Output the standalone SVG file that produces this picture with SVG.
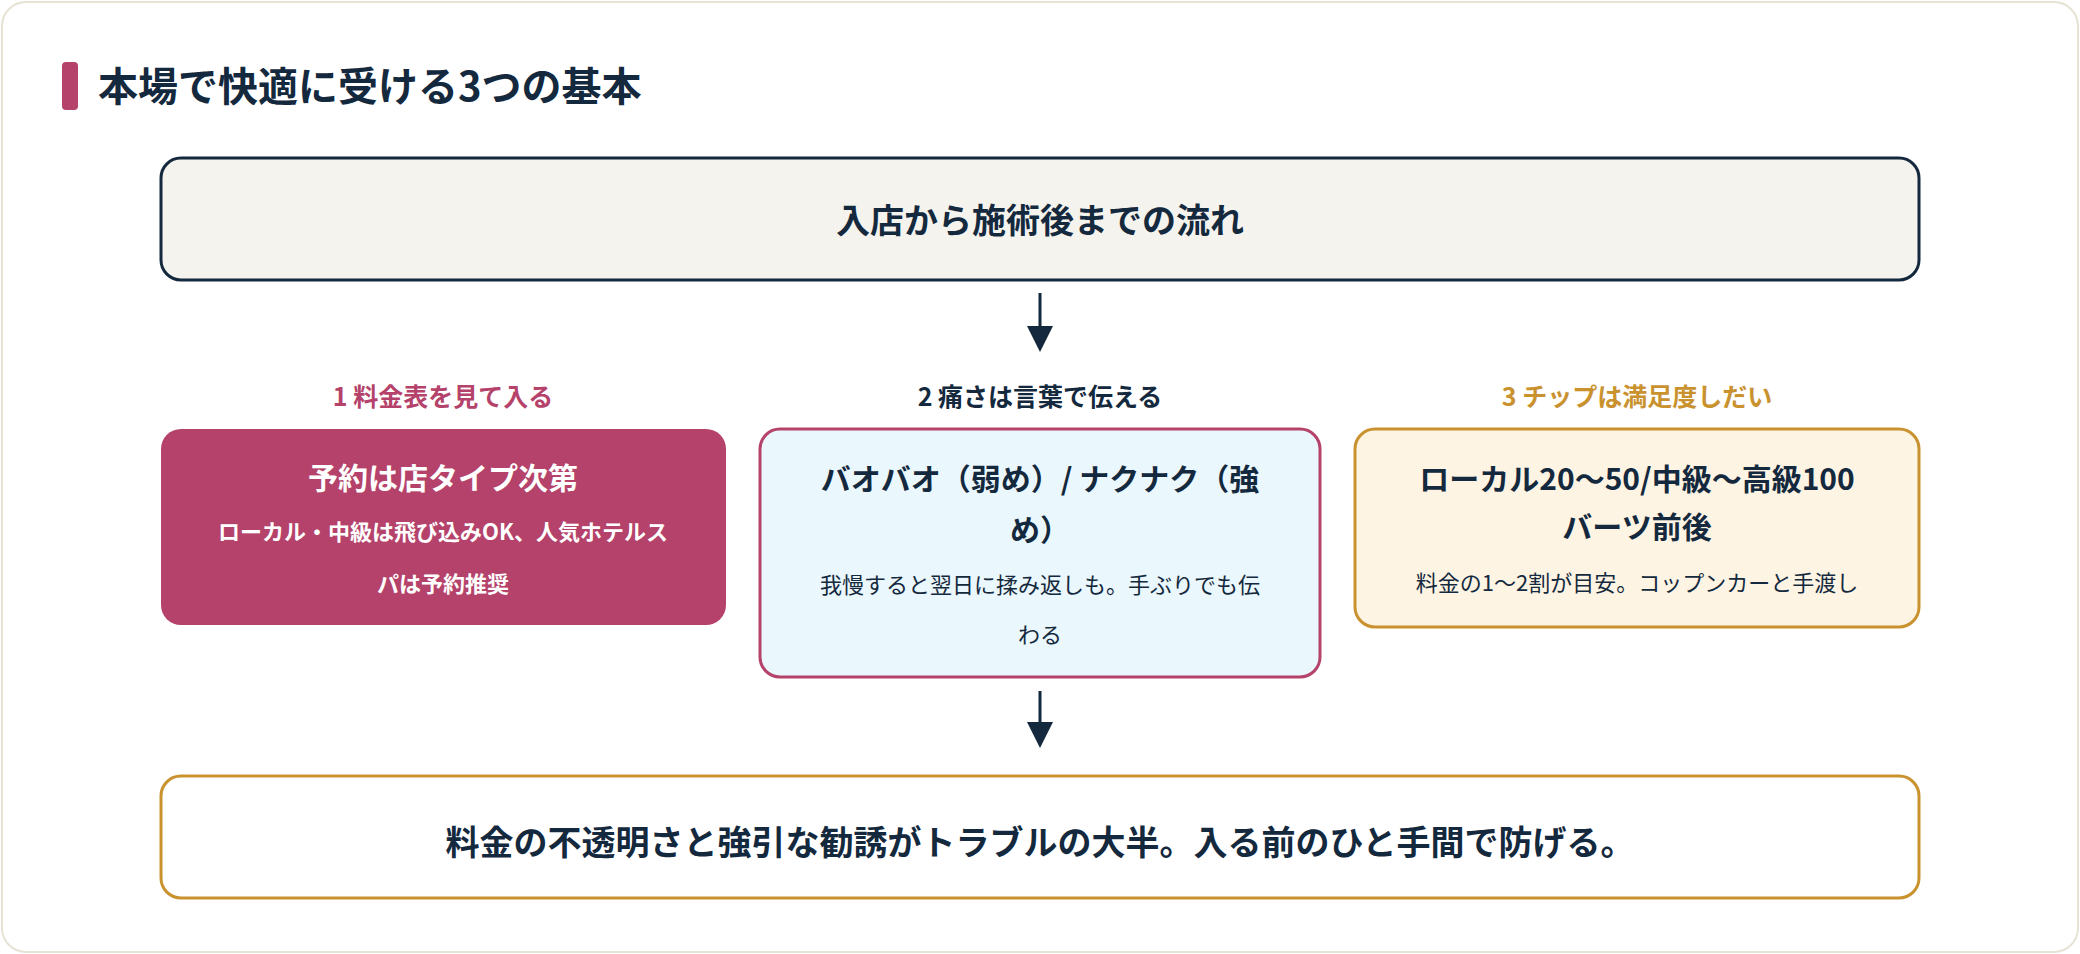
<svg xmlns="http://www.w3.org/2000/svg" width="2080" height="954" viewBox="0 0 2080 954">
<style>
text{font-family:"Noto Sans CJK JP","Noto Sans",sans-serif;text-anchor:middle;font-weight:700}
.t{fill:#14293d}
.h{font-size:34px}
.lb{font-size:25px}
.bt{font-size:30px}
.s{font-size:22px;font-weight:400}
</style>
<defs><marker id="ar" markerWidth="10" markerHeight="10" refX="5" refY="9" orient="auto" markerUnits="userSpaceOnUse" viewBox="0 0 10 10"><path d="M0,0 L10,0 L5,10z" fill="#14293d"/></marker></defs>
<rect x="2" y="2" width="2076" height="950" rx="24" fill="#fff" stroke="#e6e2d4" stroke-width="2"/>
<g id="title"><rect x="62" y="62" width="16" height="48" rx="4" fill="#b5426a"/><text x="98" y="101" class="t" font-size="40" style="text-anchor:start">本場で快適に受ける3つの基本</text></g>
<g id="top"><rect x="161" y="158" width="1758" height="122" rx="20" fill="#f5f3ee" stroke="#14293d" stroke-width="3"/><text x="1040" y="233" class="t h">入店から施術後までの流れ</text></g>
<g id="connectors" stroke="#14293d" stroke-width="3">
<line x1="1040" y1="293" x2="1040" y2="326"/><path d="M1027,326 L1053,326 L1040,352z" fill="#14293d" stroke="none"/>
<line x1="1040" y1="691" x2="1040" y2="722"/><path d="M1027,722 L1053,722 L1040,748z" fill="#14293d" stroke="none"/>
</g>
<g id="n1"><text x="443" y="406" class="lb" fill="#b5426a">1 料金表を見て入る</text>
<rect x="161" y="429" width="565" height="196" rx="20" fill="#b5426a"/>
<text x="443" y="489" class="bt" fill="#fff">予約は店タイプ次第</text>
<text x="443" y="540" class="s" fill="#fff" font-weight="700" style="font-weight:700">ローカル・中級は飛び込みOK、人気ホテルス</text>
<text x="443" y="592" class="s" fill="#fff" style="font-weight:700">パは予約推奨</text></g>
<g id="n2"><text x="1040" y="406" class="lb t">2 痛さは言葉で伝える</text>
<rect x="760" y="429" width="560" height="248" rx="20" fill="#eaf7fc" stroke="#b5426a" stroke-width="3"/>
<text x="1040" y="490" class="bt t">バオバオ（弱め）/ ナクナク（強</text>
<text x="1040" y="541" class="bt t">め）</text>
<text x="1040" y="593" class="s t">我慢すると翌日に揉み返しも。手ぶりでも伝</text>
<text x="1040" y="643" class="s t">わる</text></g>
<g id="n3"><text x="1637" y="406" class="lb" fill="#c9922f">3 チップは満足度しだい</text>
<rect x="1355" y="429" width="564" height="198" rx="20" fill="#fdf4e4" stroke="#c9922f" stroke-width="3"/>
<text x="1637" y="490" class="bt t">ローカル20〜50/中級〜高級100</text>
<text x="1637" y="538" class="bt t">バーツ前後</text>
<text x="1637" y="591" class="s t">料金の1〜2割が目安。コップンカーと手渡し</text></g>
<g id="bottom"><rect x="161" y="776" width="1758" height="122" rx="20" fill="#fff" stroke="#c9922f" stroke-width="3"/><text x="1040" y="855" class="t h">料金の不透明さと強引な勧誘がトラブルの大半。入る前のひと手間で防げる。</text></g>
</svg>
